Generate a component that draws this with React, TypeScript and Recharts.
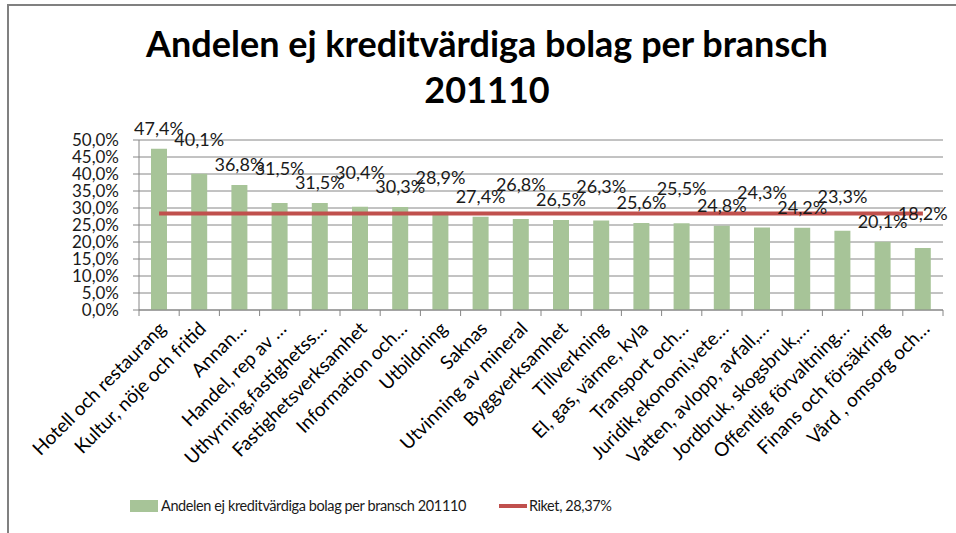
import { ComposedChart, Bar, Line, XAxis, YAxis, CartesianGrid, LabelList, Legend } from 'recharts';

const categories = [
  'Hotell och restaurang',
  'Kultur, nöje och fritid',
  'Annan…',
  'Handel, rep av …',
  'Uthyrning,fastighetss…',
  'Fastighetsverksamhet',
  'Information och…',
  'Utbildning',
  'Saknas',
  'Utvinning av mineral',
  'Byggverksamhet',
  'Tillverkning',
  'El, gas, värme, kyla',
  'Transport och…',
  'Juridik,ekonomi,vete…',
  'Vatten, avlopp, avfall,…',
  'Jordbruk, skogsbruk,…',
  'Offentlig förvaltning…',
  'Finans och försäkring',
  'Vård , omsorg och…',
];

const andelen = [
  47.4, 40.1, 36.8, 31.5, 31.5, 30.4, 30.3, 28.9, 27.4, 26.8,
  26.5, 26.3, 25.6, 25.5, 24.8, 24.3, 24.2, 23.3, 20.1, 18.2,
];

const RIKET = 28.37;

const yTicks = [0, 5, 10, 15, 20, 25, 30, 35, 40, 45, 50];

const data = categories.map((name, i) => ({
  name,
  andelen: andelen[i],
  riket: RIKET,
}));

const FONT = 'Lato, "Open Sans", sans-serif';
const fmt = (v: number) => v.toFixed(1).replace('.', ',') + '%';

function CategoryTick(props: any) {
  const { x, y, payload, index } = props;
  const half = payload?.offset ?? 20.1;
  const tx = x + 8;
  const ty = y + 12;
  return (
    <g>
      <line x1={x - half} y1={y - 8} x2={x - half} y2={y - 2} stroke="#868686" />
      {index === categories.length - 1 && (
        <line x1={x + half} y1={y - 8} x2={x + half} y2={y - 2} stroke="#868686" />
      )}
      <text
        x={tx}
        y={ty}
        transform={`rotate(-45, ${tx}, ${ty})`}
        textAnchor="end"
        fontSize={19}
        fontFamily={FONT}
        fill="#000"
      >
        {payload.value}
      </text>
    </g>
  );
}

function ValueLabel(props: any) {
  const { x, y, width, value, index } = props;
  const lift = index % 2 === 1 ? 35 : 21;
  return (
    <text
      x={x + width / 2}
      y={y - lift}
      textAnchor="middle"
      dominantBaseline="central"
      fontSize={18}
      fontFamily={FONT}
      fill="#1a1a1a"
    >
      {fmt(value)}
    </text>
  );
}

function LegendContent() {
  return (
    <div
      style={{
        display: 'flex',
        alignItems: 'center',
        fontFamily: FONT,
        fontSize: 14.5,
        letterSpacing: -0.4,
        color: '#1a1a1a',
      }}
    >
      <span style={{ width: 28, height: 12, background: '#a7c498', marginRight: 3 }} />
      <span>Andelen ej kreditvärdiga bolag per bransch 201110</span>
      <span style={{ width: 28, height: 4, background: '#c0504d', marginLeft: 33, marginRight: 2 }} />
      <span>Riket, 28,37%</span>
    </div>
  );
}

export default function App() {
  return (
    <div style={{ position: 'absolute', left: 0, top: 0, width: 956, height: 533, background: '#fff' }}>
      <div
        style={{
          position: 'absolute',
          left: 7,
          top: 4,
          right: 0,
          bottom: 0,
          borderTop: '2px solid #808080',
          borderLeft: '2px solid #808080',
        }}
      />
      <div
        style={{
          position: 'absolute',
          left: 87,
          width: 800,
          top: 20,
          textAlign: 'center',
          fontFamily: FONT,
          fontWeight: 700,
          fontSize: 36,
          lineHeight: '46px',
          color: '#000',
        }}
      >
        Andelen ej kreditvärdiga bolag per bransch
        <br />
        201110
      </div>
      <div style={{ position: 'absolute', left: 0, top: 0 }}>
        <ComposedChart
          width={956}
          height={533}
          data={data}
          margin={{ top: 140, right: 13, left: 0, bottom: 43 }}
        >
          <CartesianGrid vertical={false} stroke="#868686" />
          <XAxis
            dataKey="name"
            interval={0}
            height={180}
            tickLine={false}
            axisLine={{ stroke: '#868686' }}
            tick={<CategoryTick />}
          />
          <YAxis
            width={139}
            domain={[0, 50]}
            ticks={yTicks}
            interval={0}
            tickFormatter={fmt}
            tickSize={6}
            tickMargin={14}
            axisLine={{ stroke: '#868686' }}
            tickLine={{ stroke: '#868686' }}
            tick={{ fontSize: 17, fontFamily: FONT, fill: '#1a1a1a' }}
          />
          <Bar dataKey="andelen" fill="#a7c498" barSize={16} isAnimationActive={false}>
            <LabelList dataKey="andelen" content={<ValueLabel />} />
          </Bar>
          <Line
            dataKey="riket"
            stroke="#c0504d"
            strokeWidth={4}
            dot={false}
            activeDot={false}
            isAnimationActive={false}
          />
          <Legend
            layout="horizontal"
            verticalAlign="middle"
            align="center"
            wrapperStyle={{ top: 497, left: 130, width: 600 }}
            content={<LegendContent />}
          />
        </ComposedChart>
      </div>
    </div>
  );
}
